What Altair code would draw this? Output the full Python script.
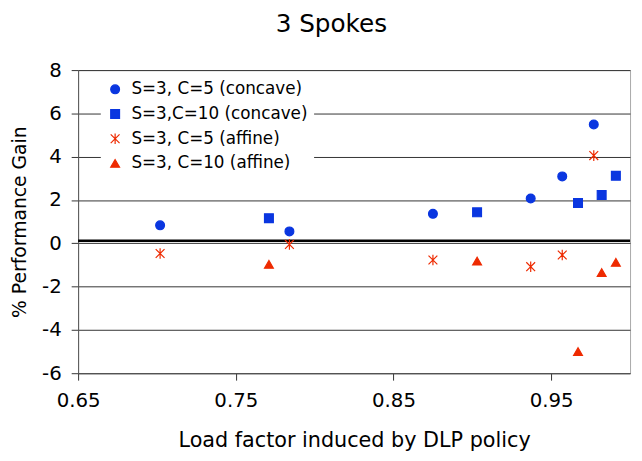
import altair as alt
import pandas as pd

# ---- data ----
series_names = ["S=3, C=5 (concave)", "S=3,C=10 (concave)", "S=3, C=5 (affine)", "S=3, C=10 (affine)"]
x_c5 = [0.702, 0.784, 0.875, 0.937, 0.957, 0.977]
concave_c5 = [0.83, 0.55, 1.36, 2.07, 3.09, 5.49]
affine_c5 = [-0.47, -0.05, -0.77, -1.08, -0.54, 4.05]
x_c10 = [0.771, 0.903, 0.967, 0.982, 0.991]
concave_c10 = [1.16, 1.43, 1.86, 2.23, 3.12]
affine_c10 = [-0.97, -0.82, -5.0, -1.35, -0.88]
ref_line = [0.12]
x_ticks = [0.65, 0.75, 0.85, 0.95]
y_ticks = [-6, -4, -2, 0, 2, 4, 6, 8]

rows = []
for xs, ys, name in [(x_c5, concave_c5, series_names[0]), (x_c10, concave_c10, series_names[1]),
                     (x_c5, affine_c5, series_names[2]), (x_c10, affine_c10, series_names[3])]:
    for x, y in zip(xs, ys):
        rows.append({"x": x, "y": y, "series": name})
df = pd.DataFrame(rows)

blue = "#0A36E0"
red = "#EE2A00"
asterisk = "M-1,-1L1,1M-1,1L1,-1M0,-1.2L0,1.2"

font = "DejaVu Sans"

xscale = alt.Scale(domain=[0.65, 1.0], nice=False, zero=False)
yscale = alt.Scale(domain=[-6, 8], nice=False, zero=False)

legend = alt.Legend(
    title=None, orient="none", legendX=23, legendY=5, fillColor="white",
    padding=6, labelFontSize=17, labelFont=font, labelColor="black",
    symbolSize=80, symbolStrokeWidth=1.2, rowPadding=7, labelOffset=8,
    labelLimit=300,
)

points = alt.Chart(df).mark_point(size=80, strokeWidth=1.2, opacity=1).encode(
    x=alt.X("x:Q", scale=xscale,
            axis=alt.Axis(values=x_ticks, format=".2f", grid=False, title="Load factor induced by DLP policy",
                          tickSize=7, labelPadding=11, titlePadding=19, labelFlush=False,
                          titleFontSize=21)),
    y=alt.Y("y:Q", scale=yscale,
            axis=alt.Axis(values=y_ticks, labelExpr="'' + datum.value", grid=True,
                          title="% Performance Gain", tickSize=7, labelPadding=10, titlePadding=12,
                          titleFontSize=19)),
    shape=alt.Shape("series:N", scale=alt.Scale(domain=series_names,
                    range=["circle", "square", asterisk, "triangle-up"]), legend=legend),
    stroke=alt.Stroke("series:N", scale=alt.Scale(domain=series_names, range=[blue, blue, red, red]), legend=legend),
    fill=alt.Fill("series:N", scale=alt.Scale(domain=series_names, range=[blue, blue, "transparent", red]), legend=legend),
)

rule = alt.Chart(pd.DataFrame({"y": ref_line})).mark_rule(color="black", strokeWidth=2.5).encode(
    y=alt.Y("y:Q", scale=yscale)
)

chart = alt.layer(rule, points).properties(
    width=559, height=307,
    autosize=alt.AutoSizeParams(type="none"),
    padding={"left": 71, "top": 60, "right": 4, "bottom": 85},
    title=alt.Title("3 Spokes", fontSize=25, font=font, fontWeight="normal", color="black",
                    anchor="middle", dx=-23, offset=24),
).configure_axis(
    labelFont=font, titleFont=font, labelFontSize=20,
    labelColor="black", titleColor="black", titleFontWeight="normal",
    domainColor="#555", tickColor="#333", gridColor="#333", gridWidth=1,
).configure_view(stroke="#aaa", strokeWidth=1)

chart.save("out.html", embed_options={"renderer": "svg", "actions": False})
